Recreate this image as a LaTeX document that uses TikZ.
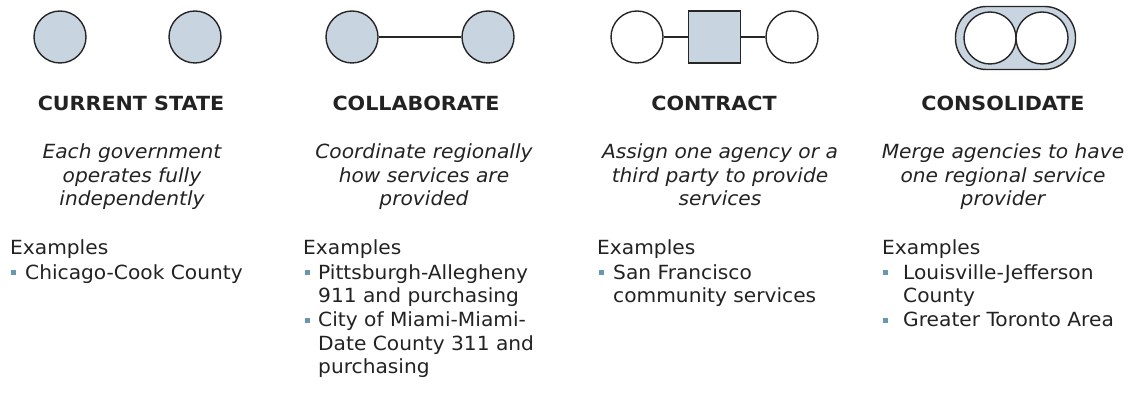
\documentclass[tikz,border=0pt]{standalone}
\usepackage{fontspec}
\setmainfont{DejaVu Sans}[FakeStretch=1.035, BoldFeatures={FakeStretch=1.06}]
\usetikzlibrary{positioning}

\definecolor{govfill}{HTML}{C8D4E0}
\definecolor{govline}{HTML}{262626}
\definecolor{bulletblue}{HTML}{6897B0}
\definecolor{textgray}{HTML}{222222}

\begin{document}
\begin{tikzpicture}[x=1pt, y=-1pt,
      every node/.style = {inner sep=0pt, text=textgray, font=\fontsize{19.5}{23.5}\selectfont},
      gov/.style        = {circle, draw=govline, line width=1.4pt, fill=govfill, minimum size=52pt},
      govwhite/.style   = {gov, fill=white},
      agency/.style     = {draw=govline, line width=1.4pt, fill=govfill, minimum size=52pt},
      merged/.style     = {draw=govline, line width=1.4pt, fill=govfill, rounded corners=31pt,
                           minimum width=120pt, minimum height=63pt},
      link/.style       = {draw=govline, line width=1.2pt},
      title/.style      = {font=\fontsize{19.5}{23.5}\selectfont\bfseries, anchor=base},
      descr/.style      = {font=\fontsize{19.5}{23.5}\selectfont\itshape, align=center, anchor=base},
      exhead/.style     = {anchor=base west},
      exitem/.style     = {anchor=base west, align=left},
      bullet/.style     = {fill=bulletblue, minimum size=5pt}
    ]
    \useasboundingbox (0,0) rectangle (1135,403);

    % current state
    \node (cura) [gov] at (60,37)  {};
    \node (curb) [gov] at (195,37) {};
    \node (curtitle) [title] at (131,111) {CURRENT STATE};
    % base = last line
    \node (curdescr) [descr] at (132,206) {Each government\\operates fully\\independently};
    \node (curex)    [exhead] at (10,255) {Examples};
    \node (curbul)   [bullet] at (13.5,272.5) {};
    \node (curitem)  [exitem] at (25,279.5) {Chicago-Cook County};

    % collaborate
    \node (cola) [gov] at (352,37) {};
    \node (colb) [gov] at (488,37) {};
    \node (coltitle) [title] at (416,111) {COLLABORATE};
    \node (coldescr) [descr] at (424,206) {Coordinate regionally\\how services are\\provided};
    \node (colex)    [exhead] at (303,255) {Examples};
    \node (colbula)  [bullet] at (307.5,272.5) {};
    \node (colitema) [exitem] at (318,302.5) {Pittsburgh-Allegheny\\911 and purchasing};
    \node (colbulb)  [bullet] at (307.5,320.5) {};
    \node (colitemb) [exitem] at (318,373.5) {City of Miami-Miami-\\Date County 311 and\\purchasing};

    % contract
    \node (cona)   [govwhite] at (637,37) {};
    \node (conmid) [agency]   at (714.5,37) {};
    \node (conb)   [govwhite] at (792,37) {};
    \node (contitle) [title] at (714,111) {CONTRACT};
    \node (condescr) [descr] at (720,206) {Assign one agency or a\\third party to provide\\services};
    \node (conex)    [exhead] at (597,255) {Examples};
    \node (conbul)   [bullet] at (601.5,272.5) {};
    \node (conitem)  [exitem] at (613,302.5) {San Francisco\\community services};

    % consolidate
    \node (merge) [merged]   at (1015.5,38) {};
    \node (mrga)  [govwhite] at (990,38)  {};
    \node (mrgb)  [govwhite] at (1042,38) {};
    \node (mrgtitle) [title] at (1003,111) {CONSOLIDATE};
    \node (mrgdescr) [descr] at (1003,206) {Merge agencies to have\\one regional service\\provider};
    \node (mrgex)    [exhead] at (882,255) {Examples};
    \node (mrgbula)  [bullet] at (885.5,272.5) {};
    \node (mrgitema) [exitem] at (903,302.5) {Louisville-Jefferson\\County};
    \node (mrgbulb)  [bullet] at (885.5,320.5) {};
    \node (mrgitemb) [exitem] at (903,326.5) {Greater Toronto Area};

    \draw[link] (cola) -- (colb);
    \draw[link] (cona) -- (conmid);
    \draw[link] (conmid) -- (conb);
  \end{tikzpicture}
\end{document}
